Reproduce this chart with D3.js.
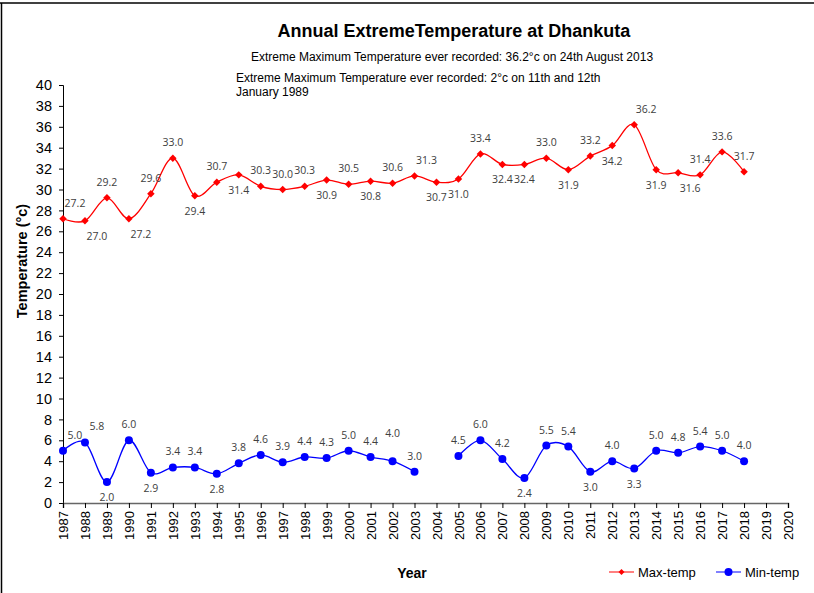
<!DOCTYPE html>
<html>
<head>
<meta charset="utf-8">
<script src="https://cdn.jsdelivr.net/npm/d3@7"></script>
<style>
  body { margin: 0; background: #fff; }
  svg { display: block; }
  text { font-family: "Liberation Sans", Arial, sans-serif; }
  .dl { font-family: "Open Sans", "Noto Sans", sans-serif; font-size: 10.5px; fill: #404040; }
</style>
</head>
<body>
<svg id="chart" width="814" height="593"></svg>
<script>
"use strict";

// --- data ---
const years = d3.range(1987, 2019)
const yearTicks = d3.range(1987, 2021)
const yTicks = d3.range(0, 41, 2)

const maxTemp = [27.2, 27.0, 29.2, 27.2, 29.6, 33.0, 29.4, 30.7, 31.4, 30.3,
                 30.0, 30.3, 30.9, 30.5, 30.8, 30.6, 31.3, 30.7, 31.0, 33.4,
                 32.4, 32.4, 33.0, 31.9, 33.2, 34.2, 36.2, 31.9, 31.6, 31.4,
                 33.6, 31.7]
const minTemp = [5.0, 5.8, 2.0, 6.0, 2.9, 3.4, 3.4, 2.8, 3.8, 4.6,
                 3.9, 4.4, 4.3, 5.0, 4.4, 4.0, 3.0, null, 4.5, 6.0,
                 4.2, 2.4, 5.5, 5.4, 3.0, 4.0, 3.3, 5.0, 4.8, 5.4,
                 5.0, 4.0]

// label placement: a = above, b = below, r suffix = nudged right
const maxLabelPlace = ["ar", "br", "a", "br", "a", "a", "b", "a", "b", "a",
                       "a", "a", "b", "a", "b", "a", "ar", "b", "b", "a",
                       "b", "b", "a", "b", "a", "b", "ar", "b", "br", "a",
                       "a", "a"]
const minLabelPlace = ["ar", "ar", "b", "a", "b", "a", "a", "b", "a", "a",
                       "a", "a", "a", "a", "a", "aa", "a", "a", "a", "a",
                       "a", "b", "a", "a", "b", "a", "b", "a", "a", "a",
                       "a", "a"]

const title = "Annual ExtremeTemperature at Dhankuta"
const note1 = "Extreme Maximum Temperature ever recorded: 36.2°c on 24th August 2013"
const note2 = ["Extreme Maximum Temperature ever recorded: 2°c on 11th and 12th", "January 1989"]

// --- layout ---
const W = 814, H = 593
const margin = {top: 85, right: 26, bottom: 90, left: 63}

const svg = d3.select("#chart")

svg.append("line").attr("x1", 0).attr("x2", W).attr("y1", 3).attr("y2", 3)
    .attr("stroke", "#000").attr("stroke-width", 1.5)
svg.append("line").attr("x1", 1.5).attr("x2", 1.5).attr("y1", 3).attr("y2", H)
    .attr("stroke", "#000").attr("stroke-width", 1.5)

const x = d3.scaleLinear().domain([1987, 2020]).range([margin.left, W - margin.right])
const y = d3.scaleLinear().domain([0, 40]).range([H - margin.bottom, margin.top])

// axes
const yAxis = svg.append("g")
    .attr("transform", `translate(${margin.left},0)`)
    .call(d3.axisLeft(y).tickValues(yTicks).tickSize(4).tickPadding(7).tickFormat(d3.format("d")))
yAxis.select(".domain").attr("stroke", "#000")
yAxis.selectAll(".tick line").attr("stroke", "#000")
yAxis.selectAll("text").style("font-size", "14.5px").attr("fill", "#000")
    .style("font-family", "'Liberation Sans', Arial, sans-serif")

const xAxis = svg.append("g")
    .attr("transform", `translate(0,${y(0)})`)
    .call(d3.axisBottom(x).tickValues(yearTicks).tickSize(5).tickFormat(d3.format("d")))
xAxis.select(".domain").attr("stroke", "#666").attr("stroke-width", 1.5)
xAxis.selectAll(".tick line").attr("stroke", "#000")
xAxis.selectAll("text")
    .style("font-size", "13px").attr("fill", "#000")
    .style("font-family", "'Liberation Sans', Arial, sans-serif")
    .attr("transform", "rotate(-90)")
    .attr("text-anchor", "end")
    .attr("x", -8).attr("y", 0).attr("dy", "0.35em")

// lines
const line = d3.line()
    .defined(d => d.v !== null)
    .x(d => x(d.year))
    .y(d => y(d.v))
    .curve(d3.curveCardinal.tension(0))

const series = [
    {name: "Max-temp", color: "#ff0000", values: maxTemp, place: maxLabelPlace, marker: "diamond"},
    {name: "Min-temp", color: "#0000ff", values: minTemp, place: minLabelPlace, marker: "circle"}
]

series.forEach(s => {
    const pts = years.map((yr, i) => ({year: yr, v: s.values[i], place: s.place[i]}))
    svg.append("path")
        .datum(pts)
        .attr("fill", "none")
        .attr("stroke", s.color)
        .attr("stroke-width", 1.3)
        .attr("d", line)

    const valid = pts.filter(d => d.v !== null)
    const g = svg.append("g")
    if (s.marker === "circle") {
        g.selectAll("circle").data(valid).enter().append("circle")
            .attr("cx", d => x(d.year)).attr("cy", d => y(d.v)).attr("r", 4)
            .attr("fill", s.color)
    } else {
        g.selectAll("path").data(valid).enter().append("path")
            .attr("d", d3.symbol(d3.symbolSquare, 28))
            .attr("transform", d => `translate(${x(d.year)},${y(d.v)}) rotate(45)`)
            .attr("fill", s.color)
    }

    svg.append("g").selectAll("text").data(valid).enter().append("text")
        .attr("class", "dl")
        .attr("text-anchor", "middle")
        .attr("x", d => x(d.year) + (d.place.endsWith("r") ? 12 : 0))
        .attr("y", d => {
            if (d.place.startsWith("aa")) return y(d.v) - 24
            return d.place.startsWith("a") ? y(d.v) - 12 : y(d.v) + 19
        })
        .text(d => d.v.toFixed(1))
})

// titles
svg.append("text").attr("x", 454).attr("y", 37)
    .attr("text-anchor", "middle")
    .style("font-size", "18px").style("font-weight", "bold")
    .text(title)
svg.append("text").attr("x", 452).attr("y", 61)
    .attr("text-anchor", "middle")
    .style("font-size", "12px")
    .text(note1)
svg.append("text").attr("x", 236).attr("y", 82)
    .style("font-size", "12px")
    .selectAll("tspan").data(note2).enter().append("tspan")
    .attr("x", 236).attr("dy", (d, i) => i ? 14 : 0)
    .text(d => d)

svg.append("text")
    .attr("transform", "translate(27,261) rotate(-90)")
    .attr("text-anchor", "middle")
    .style("font-size", "14.5px").style("font-weight", "bold")
    .text("Temperature (°c)")

svg.append("text").attr("x", 412).attr("y", 578)
    .attr("text-anchor", "middle")
    .style("font-size", "14px").style("font-weight", "bold")
    .text("Year")

// legend
const legendX = [609, 716]
series.forEach((s, i) => {
    const lg = svg.append("g").attr("transform", `translate(${legendX[i]},572)`)
    lg.append("line").attr("x1", 0).attr("x2", 25).attr("y1", 0).attr("y2", 0)
        .attr("stroke", s.color).attr("stroke-width", 1.8).attr("opacity", 0.55)
    if (s.marker === "circle") {
        lg.append("circle").attr("cx", 12.5).attr("cy", 0).attr("r", 4).attr("fill", s.color)
    } else {
        lg.append("path").attr("d", d3.symbol(d3.symbolSquare, 18))
            .attr("transform", "translate(12.5,0) rotate(45)").attr("fill", s.color)
    }
    lg.append("text").attr("x", 29).attr("y", 0).attr("dy", "0.35em")
        .style("font-size", "13px")
        .text(s.name)
})
</script>
</body>
</html>
